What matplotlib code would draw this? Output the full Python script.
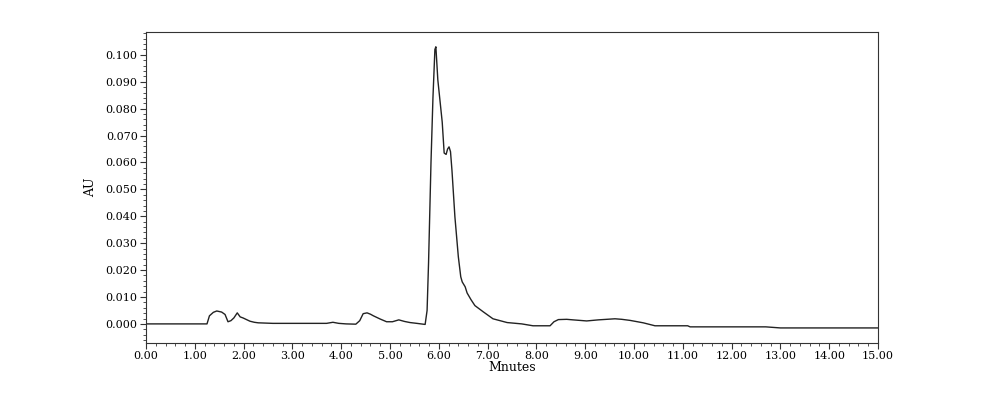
import numpy as np
import matplotlib
matplotlib.use("Agg")
import matplotlib.pyplot as plt
from matplotlib.ticker import MultipleLocator, FormatStrFormatter

# chromatogram trace (minutes, AU)
minutes = [
    0.00, 1.25, 1.30, 1.38, 1.45, 1.55, 1.62, 1.68, 1.74, 1.80, 1.87, 1.93,
    1.99, 2.06, 2.13, 2.22, 2.30, 2.60, 3.30, 3.70, 3.83, 3.95, 4.10, 4.30,
    4.38, 4.45, 4.53, 4.60, 4.66, 4.80, 4.93, 5.05, 5.18, 5.30, 5.41, 5.55,
    5.72, 5.76, 5.79, 5.84, 5.88, 5.92, 5.94, 5.98, 6.03, 6.07, 6.11, 6.15,
    6.18, 6.21, 6.24, 6.27, 6.33, 6.40, 6.45, 6.48, 6.54, 6.58, 6.66, 6.74,
    6.91, 7.11, 7.40, 7.70, 7.93, 8.28, 8.36, 8.45, 8.62, 8.75, 9.03, 9.27,
    9.61, 9.75, 9.92, 10.19, 10.43, 11.10, 11.15, 12.70, 13.00, 15.00,
]
au = [
    0.0000, 0.0000, 0.0030, 0.0043, 0.0048, 0.0044, 0.0035, 0.0008, 0.0012, 0.0022,
    0.0041, 0.0026, 0.0022, 0.0016, 0.0010, 0.0006, 0.0004, 0.0002, 0.0002, 0.0002,
    0.0006, 0.0002, 0.0000, -0.0001, 0.0012, 0.0038, 0.0041, 0.0036, 0.0030, 0.0018,
    0.0008, 0.0008, 0.0015, 0.0009, 0.0005, 0.0002, -0.0002, 0.0050, 0.0227, 0.0600,
    0.0840, 0.1020, 0.1030, 0.0907, 0.0820, 0.0750, 0.0635, 0.0630, 0.0650, 0.0658,
    0.0640, 0.0570, 0.0398, 0.0250, 0.0175, 0.0156, 0.0138, 0.0115, 0.0090, 0.0068,
    0.0045, 0.0019, 0.0005, 0.0000, -0.0007, -0.0007, 0.0008, 0.0016, 0.0017, 0.0015,
    0.0011, 0.0015, 0.0019, 0.0017, 0.0013, 0.0004, -0.0007, -0.0007, -0.0011, -0.0011,
    -0.0015, -0.0015,
]

plt.rcParams.update({
    "font.family": "DejaVu Serif",
    "font.size": 8,
    "xtick.direction": "out",
    "ytick.direction": "out",
})

LINE_COLOR = "#222222"
AXIS_COLOR = "#333333"

fig = plt.figure(figsize=(10, 4), dpi=100)
ax = fig.add_axes([0.146, 0.1425, 0.732, 0.7775])

ax.plot(minutes, au, color=LINE_COLOR, lw=1.0)

ax.set_xlim(0, 15)
ax.set_ylim(-0.0071, 0.1085)

ax.xaxis.set_major_locator(MultipleLocator(1.0))
ax.xaxis.set_minor_locator(MultipleLocator(0.2))
ax.xaxis.set_major_formatter(FormatStrFormatter("%.2f"))
ax.yaxis.set_major_locator(MultipleLocator(0.01))
ax.yaxis.set_minor_locator(MultipleLocator(0.002))
ax.yaxis.set_major_formatter(FormatStrFormatter("%.3f"))

ax.tick_params(which="major", length=4, width=0.8, color=AXIS_COLOR, pad=2)
ax.tick_params(which="minor", length=2.5, width=0.6, color=AXIS_COLOR)
for s in ax.spines.values():
    s.set_color(AXIS_COLOR)
    s.set_linewidth(0.8)

ax.set_xlabel("Mnutes", fontsize=9, labelpad=0)
ax.set_ylabel("AU", fontsize=9, labelpad=6)

fig.savefig("out.png", dpi=100)
